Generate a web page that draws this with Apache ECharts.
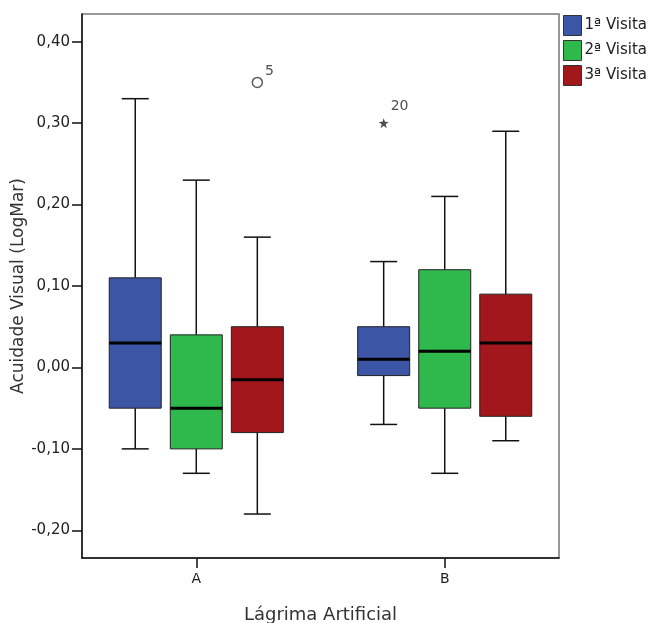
<!DOCTYPE html>
<html><head><meta charset="utf-8">
<script src="https://cdn.jsdelivr.net/npm/echarts@6/dist/echarts.min.js"></script>
<style>html,body{margin:0;padding:0;background:#fff}#c{width:651px;height:623px}</style>
</head><body><div id="c"></div>
<script>
// ---- data ----
const categories = ['A', 'B'];
const seriesNames = ['1ª Visita', '2ª Visita', '3ª Visita'];
// [min, Q1, median, Q3, max] for categories A, B
const visit1 = [[-0.10, -0.05, 0.03, 0.11, 0.33], [-0.07, -0.01, 0.01, 0.05, 0.13]];
const visit2 = [[-0.13, -0.10, -0.05, 0.04, 0.23], [-0.13, -0.05, 0.02, 0.12, 0.21]];
const visit3 = [[-0.18, -0.08, -0.015, 0.05, 0.16], [-0.09, -0.06, 0.03, 0.09, 0.29]];
const yTicks = [-0.2, -0.1, 0, 0.1, 0.2, 0.3, 0.4];
const outlierCategory = ['A', 'B'];
const outlierVisit = [2, 0];
const outlierValue = [0.35, 0.30];
const outlierCase = ['5', '20'];
const outlierKind = ['circle', 'star'];

// ---- styling ----
const colors = ['#3d55a5', '#2fb84b', '#a2171b'];
const FONT = 'DejaVu Sans';
const GROUP_STEP = 0.2457;
const BOX_W = 52, CAP_W = 27;
const visits = [visit1, visit2, visit3];

function makeRender(sIdx) {
  return function (params, api) {
    const x = api.value(0) + (sIdx - 1) * GROUP_STEP;
    const lo = api.coord([x, api.value(1)]);
    const q1 = api.coord([x, api.value(2)]);
    const md = api.coord([x, api.value(3)]);
    const q3 = api.coord([x, api.value(4)]);
    const hi = api.coord([x, api.value(5)]);
    const cx = md[0];
    const hw = BOX_W / 2, cw = CAP_W / 2;
    const ls = { stroke: '#111', lineWidth: 1.5 };
    return {
      type: 'group', children: [
        { type: 'line', shape: { x1: cx, y1: hi[1], x2: cx, y2: q3[1] }, style: ls },
        { type: 'line', shape: { x1: cx, y1: q1[1], x2: cx, y2: lo[1] }, style: ls },
        { type: 'line', shape: { x1: cx - cw, y1: hi[1], x2: cx + cw, y2: hi[1] }, style: ls },
        { type: 'line', shape: { x1: cx - cw, y1: lo[1], x2: cx + cw, y2: lo[1] }, style: ls },
        { type: 'rect', shape: { x: cx - hw, y: q3[1], width: BOX_W, height: q1[1] - q3[1] },
          style: { fill: colors[sIdx], stroke: '#222', lineWidth: 1 } },
        { type: 'line', shape: { x1: cx - hw, y1: md[1], x2: cx + hw, y2: md[1] },
          style: { stroke: '#000', lineWidth: 3 } }
      ]
    };
  };
}

const series = visits.map((vals, s) => ({
  name: seriesNames[s],
  type: 'custom',
  renderItem: makeRender(s),
  itemStyle: { color: colors[s], borderColor: '#333', borderWidth: 1 },
  encode: { x: 0, y: [1, 2, 3, 4, 5] },
  data: vals.map((v, i) => [i + 1].concat(v))
}));

const starPath = 'path://M0,-10 L2.35,-3.24 L9.51,-3.09 L3.8,1.24 L5.88,8.09 L0,4 L-5.88,8.09 L-3.8,1.24 L-9.51,-3.09 L-2.35,-3.24 Z';
series.push({
  type: 'scatter',
  silent: true,
  data: outlierValue.map((v, i) => {
    const x = categories.indexOf(outlierCategory[i]) + 1 + (outlierVisit[i] - 1) * GROUP_STEP;
    const isStar = outlierKind[i] === 'star';
    return {
      value: [x, v],
      symbol: isStar ? starPath : 'circle',
      symbolSize: 10,
      itemStyle: isStar ? { color: '#222', borderWidth: 0 } : { color: '#fff', borderColor: '#333', borderWidth: 1.5 },
      label: {
        show: true, formatter: outlierCase[i], position: 'right', distance: 2,
        offset: isStar ? [0, -17] : [0, -11],
        fontFamily: FONT, fontSize: 14, color: '#222'
      }
    };
  })
});

const chart = echarts.init(document.getElementById('c'));
chart.setOption({
  animation: false,
  backgroundColor: '#fff',
  textStyle: { fontFamily: FONT },
  legend: {
    data: seriesNames,
    orient: 'vertical', left: 563, top: 15, padding: 0,
    icon: 'rect', itemWidth: 18, itemHeight: 20, itemGap: 4,
    itemStyle: { borderColor: '#333', borderWidth: 1 },
    textStyle: { fontFamily: FONT, fontSize: 15, color: '#222', padding: [0, 0, 0, -2] }
  },
  grid: {
    left: 82, top: 14, right: 92, bottom: 65,
    outerBoundsMode: 'none', containLabel: false,
    show: true, borderColor: '#777', borderWidth: 1.5, backgroundColor: '#fff'
  },
  xAxis: {
    type: 'value', min: 0.54, max: 2.46,
    name: 'Lágrima Artificial', nameLocation: 'middle', nameGap: 48, nameMoveOverlap: false,
    nameTextStyle: { fontFamily: FONT, fontSize: 18, color: '#333' },
    axisLine: { onZero: false, lineStyle: { color: '#111', width: 1.5 } },
    axisTick: { show: true, customValues: [1, 2], length: 10, lineStyle: { color: '#111', width: 1.5 } },
    axisLabel: { customValues: [1, 2], margin: 14, fontFamily: FONT, fontSize: 14, color: '#222',
      formatter: v => categories[Math.round(v) - 1] || '' },
    splitLine: { show: false }
  },
  yAxis: {
    type: 'value', min: -0.234, max: 0.434,
    name: 'Acuidade Visual (LogMar)', nameLocation: 'middle', nameGap: 55, nameMoveOverlap: false,
    nameTextStyle: { fontFamily: FONT, fontSize: 17, color: '#333' },
    axisLine: { show: true, onZero: false, lineStyle: { color: '#111', width: 1.5 } },
    axisTick: { show: true, customValues: yTicks, length: 10, lineStyle: { color: '#111', width: 1.5 } },
    axisLabel: { customValues: yTicks, margin: 12, fontFamily: FONT, fontSize: 15, color: '#222',
      formatter: v => v.toFixed(2).replace('.', ',').replace(/^-0,00$/, '0,00') },
    splitLine: { show: false }
  },
  series: series
});
</script></body></html>
